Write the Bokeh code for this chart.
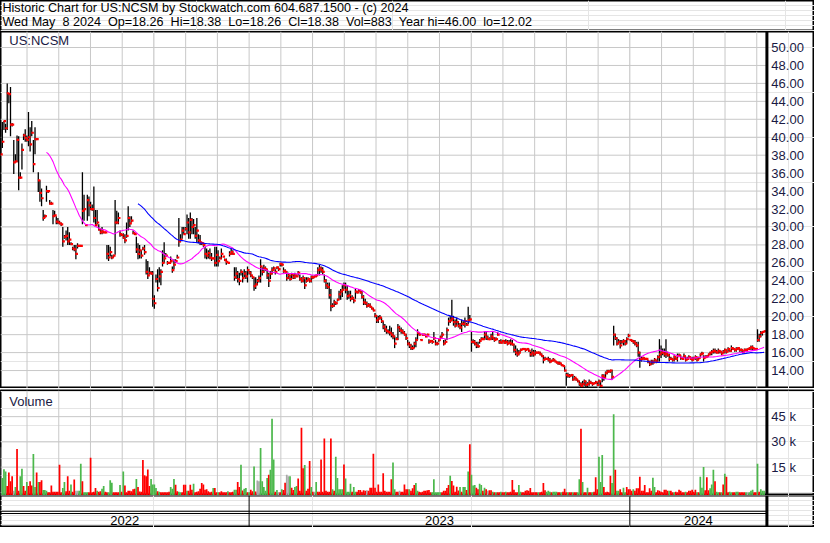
import numpy as np
import pandas as pd
from bokeh.plotting import figure
from bokeh.layouts import column
from bokeh.models import Range1d, Span
from bokeh.core.properties import value
from bokeh.embed import file_html
from bokeh.resources import INLINE

# ---------------- data (daily bars, US:NCSM, May 2022 - May 8 2024) ----------------
HIGH = [
40.9,41.7,41.8,41.5,46.0,44.9,45.6,41.6,39.7,38.1,
40.2,40.1,36.1,39.3,40.4,40.9,40.2,42.8,41.1,41.8,
39.7,41.1,39.9,36.1,35.2,34.3,31.9,31.4,34.6,34.1,
33.0,32.8,31.9,31.8,31.2,31.0,30.7,30.5,30.0,29.1,
29.6,30.0,29.4,28.3,27.8,28.0,28.0,28.2,27.9,27.9,
36.1,33.6,30.2,33.6,33.4,32.8,32.5,34.5,31.9,31.9,
30.3,29.8,30.0,29.5,29.4,28.0,28.0,27.8,26.9,26.9,
33.0,31.8,31.6,29.6,29.2,29.3,29.2,30.5,32.3,31.2,
31.2,29.6,29.4,28.9,28.2,28.0,27.4,27.8,28.0,26.4,
26.2,25.5,25.1,25.1,22.4,24.7,25.3,25.5,25.3,27.4,
28.3,27.1,26.2,26.0,26.7,25.6,26.4,26.4,26.9,31.0,
29.2,30.0,30.0,30.0,31.4,31.0,31.6,31.0,30.9,30.0,
31.0,29.2,29.1,28.3,28.2,27.8,27.6,27.4,27.6,27.1,
26.5,27.8,27.8,27.4,26.7,27.6,26.7,26.5,26.5,26.0,
27.3,27.6,27.4,25.5,25.5,25.1,24.9,25.3,25.1,25.3,
25.1,25.6,25.1,25.1,24.6,24.4,24.4,24.2,24.6,26.4,
25.5,25.8,25.6,25.3,24.9,25.1,25.5,25.6,25.3,25.6,
25.5,26.0,26.0,25.5,25.3,25.1,24.9,24.7,24.9,24.7,
24.9,24.7,25.1,24.7,24.4,24.6,24.4,24.4,24.4,24.3,
24.6,24.6,24.6,24.7,25.5,25.8,25.6,25.5,24.7,24.2,
23.8,23.8,23.1,21.5,21.9,21.7,22.0,22.9,23.1,23.5,
23.8,23.8,23.5,22.9,22.9,22.4,22.0,23.1,22.9,23.1,
22.9,22.9,22.4,22.0,21.7,21.5,21.5,21.1,21.0,20.4,
20.2,20.1,20.2,19.9,19.5,19.2,19.0,18.6,19.0,18.8,
18.3,17.9,17.7,19.2,19.0,18.8,18.6,18.4,18.1,17.4,
17.2,17.0,16.8,17.2,17.7,18.6,18.3,17.5,18.1,18.1,
17.9,18.1,17.5,17.4,17.4,18.3,17.4,17.2,17.5,17.9,
18.3,17.4,17.5,18.8,19.9,20.1,21.9,20.1,19.7,19.9,
19.5,19.3,19.7,19.5,19.9,19.3,21.1,20.2,18.3,17.5,
17.4,17.2,17.2,17.5,17.7,17.7,18.3,18.4,17.9,17.7,
18.1,18.3,17.7,17.7,18.3,17.4,17.5,17.4,17.4,17.5,
17.4,17.4,17.5,17.4,17.0,16.8,16.45,16.3,16.45,16.45,
16.45,16.45,16.45,16.45,16.1,16.45,16.3,16.3,16.1,16.1,
16.1,15.9,15.7,15.55,15.4,15.55,15.4,15.2,15.4,15.2,
15.0,15.0,15.0,14.8,14.65,14.5,13.75,13.75,13.6,13.6,
13.6,13.4,13.2,13.0,12.85,12.7,12.85,13.0,12.85,12.7,
13.0,12.85,12.7,12.7,12.85,12.7,13.0,12.85,13.6,13.6,
13.9,14.1,14.1,14.1,14.1,19.0,18.1,17.7,17.5,17.4,
17.4,17.5,17.4,17.7,18.1,17.5,17.5,17.4,17.4,17.2,
17.2,16.1,15.55,15.55,15.4,15.4,15.2,15.0,15.2,15.2,
15.4,15.2,15.7,17.5,16.8,16.45,16.45,17.5,16.1,15.9,
15.55,15.4,15.7,15.55,15.9,15.9,15.7,15.55,15.9,15.55,
15.55,15.7,15.55,15.55,15.55,15.7,15.55,15.55,15.9,16.1,
15.7,15.7,15.7,15.9,16.1,16.3,16.45,16.45,16.3,16.45,
16.3,16.1,16.3,16.45,16.3,16.6,16.3,16.8,16.6,16.45,
16.6,16.6,16.45,16.45,16.3,16.45,16.45,16.45,16.6,16.8,
16.8,16.45,16.45,18.6,18.1,18.4,18.4,18.38,
]
LOW = [
38.1,38.8,40.8,40.5,40.8,43.8,40.1,41.2,35.9,37.2,
37.2,34.1,35.4,36.4,39.7,39.5,39.5,39.0,38.4,40.1,
36.1,38.1,39.7,33.9,32.8,32.3,30.7,31.0,32.8,33.8,
32.5,32.5,30.3,31.2,30.3,30.3,30.3,30.1,27.8,28.7,
28.5,28.0,28.0,28.0,27.4,27.3,26.4,27.6,27.9,27.9,
30.3,30.7,30.1,30.7,31.2,31.9,31.8,30.5,30.0,30.3,
29.6,29.2,29.2,29.3,29.4,26.4,26.2,26.7,26.4,26.6,
26.9,30.3,30.3,28.9,29.0,28.7,28.2,28.8,29.6,30.0,
30.5,29.2,29.1,27.1,26.4,26.5,26.5,27.4,26.9,24.7,
24.2,24.7,24.7,21.1,20.9,23.8,22.8,23.8,23.5,25.6,
26.0,26.7,25.8,26.0,26.0,24.9,25.3,26.0,26.5,27.8,
28.3,28.7,29.2,29.6,29.2,28.7,28.7,29.2,29.2,28.7,
28.3,28.2,28.0,28.0,27.8,26.5,26.4,26.5,26.4,26.2,
26.5,25.6,25.6,25.6,26.4,26.4,26.7,26.2,25.8,26.0,
26.7,26.9,26.9,24.0,24.2,23.8,23.5,24.6,23.8,24.4,
24.2,23.8,24.7,24.4,24.2,22.9,23.1,23.5,23.8,23.8,
24.6,24.9,25.1,24.2,23.3,24.2,24.7,25.1,24.7,25.3,
25.1,25.6,25.6,24.9,24.9,24.0,24.2,24.0,24.2,24.2,
24.2,24.4,24.6,24.0,23.8,23.8,23.1,23.8,24.0,23.8,
23.8,24.2,24.4,24.4,24.7,24.6,24.9,24.7,23.8,23.1,
23.1,22.0,20.6,21.0,21.1,21.3,21.7,21.9,21.9,22.2,
23.1,22.6,21.9,22.0,21.7,21.9,21.5,22.0,22.6,22.8,
22.6,22.0,21.3,21.3,21.0,21.1,21.0,20.8,20.6,19.9,
19.3,19.3,19.7,19.3,18.6,18.3,18.1,18.1,17.9,17.7,
17.5,16.5,17.4,17.4,18.3,18.1,18.1,17.9,17.4,16.8,
16.5,16.3,16.3,16.5,16.6,17.4,17.9,17.4,17.9,17.9,
17.7,17.9,17.0,17.2,17.0,17.4,16.8,16.8,17.2,17.5,
17.7,16.8,17.0,17.4,19.0,19.3,19.5,19.0,18.8,19.0,
18.8,18.6,18.3,19.0,18.8,19.0,19.2,19.5,16.1,17.0,
16.8,16.5,16.5,17.0,17.4,17.4,17.5,17.4,17.4,17.4,
17.4,17.4,17.2,17.4,17.9,17.0,17.0,17.2,17.0,17.0,
16.8,17.0,16.8,16.8,16.0,15.7,15.55,15.7,16.1,16.3,
16.3,16.1,16.3,16.1,15.55,15.55,15.55,15.7,15.9,15.9,
15.7,15.55,14.8,15.2,15.2,15.0,14.8,15.0,15.0,15.0,
14.8,14.65,14.65,14.5,14.5,13.9,12.3,13.2,13.2,13.4,
12.85,13.0,12.85,12.7,12.3,12.02,12.1,12.3,12.1,12.1,
12.3,12.5,12.3,12.5,12.5,12.3,12.3,12.1,12.7,12.85,
13.2,13.6,13.75,13.75,13.0,16.8,17.4,16.8,17.0,16.45,
17.0,16.8,16.8,17.0,17.7,17.4,17.2,17.0,16.8,16.6,
15.55,14.3,15.0,15.2,15.2,15.2,14.8,14.5,14.65,14.65,
15.0,14.8,15.0,15.0,15.4,15.7,15.55,15.4,15.55,15.0,
15.2,15.0,15.0,15.2,15.0,15.55,15.2,15.2,15.4,15.0,
15.2,15.4,15.2,15.0,15.2,15.2,15.0,15.2,15.55,15.7,
15.0,15.4,15.4,15.55,15.7,15.7,15.9,15.9,15.9,15.9,
15.9,15.7,15.9,15.9,15.9,16.1,16.1,16.1,16.3,16.1,
16.1,16.3,16.1,16.1,15.9,16.1,16.1,16.3,16.3,16.3,
16.3,16.3,16.3,17.2,17.2,17.7,17.9,18.26,
]
CLOSE = [
38.1,39.5,41.8,41.0,44.9,44.8,41.4,41.4,37.2,37.3,
39.7,35.5,35.5,38.6,40.2,39.9,39.7,40.0,39.2,40.5,
37.0,39.8,39.8,35.2,33.8,33.2,31.0,31.2,34.0,34.0,
32.6,32.6,31.2,31.3,30.6,30.5,30.4,30.3,28.4,28.9,
29.0,28.4,28.6,28.1,27.6,27.5,27.0,27.9,27.9,27.9,
31.8,32.0,30.2,33.0,32.4,32.0,32.0,31.0,30.2,30.5,
29.7,29.4,29.5,29.4,29.4,27.0,26.6,27.2,26.6,26.8,
30.5,30.5,31.0,29.2,29.1,28.8,28.5,29.0,31.0,30.4,
30.7,29.3,29.2,27.5,27.0,27.4,26.8,27.6,27.2,25.0,
24.6,24.9,24.8,22.0,21.5,24.2,23.2,24.5,25.0,26.0,
26.5,26.8,26.0,26.0,26.2,25.2,25.8,26.2,26.6,28.4,
28.6,29.6,29.2,29.8,30.5,29.4,30.8,30.0,30.2,29.0,
29.6,28.5,28.3,28.2,28.0,27.0,26.8,27.1,26.6,26.5,
26.5,26.0,26.9,26.2,26.5,27.0,26.7,26.3,26.1,26.0,
27.0,27.2,27.0,24.4,24.8,24.2,24.0,25.0,24.3,24.8,
24.5,25.2,24.9,24.6,24.4,23.4,23.6,24.0,24.3,25.6,
25.0,25.4,25.3,24.6,24.0,24.8,25.2,25.4,25.0,25.5,
25.3,25.9,25.8,25.1,25.0,24.3,24.6,24.2,24.7,24.4,
24.6,24.5,24.9,24.2,24.0,24.3,23.5,24.0,24.2,24.0,
24.4,24.4,24.5,24.6,25.2,25.4,25.2,25.0,24.0,23.5,
23.3,22.4,21.2,21.2,21.6,21.5,21.9,22.5,22.8,23.0,
23.5,23.0,22.3,22.4,22.0,22.1,21.8,22.8,22.7,22.9,
22.7,22.2,21.6,21.5,21.2,21.3,21.1,20.9,20.7,20.1,
19.6,19.8,19.9,19.5,18.9,18.6,18.4,18.3,18.2,18.0,
17.8,17.0,17.5,18.8,18.5,18.4,18.2,18.0,17.6,17.0,
16.8,16.5,16.5,17.0,17.4,18.2,18.0,17.4,18.0,18.0,
17.8,18.0,17.2,17.3,17.2,17.6,17.0,17.0,17.4,17.7,
18.0,17.0,17.2,18.5,19.5,19.6,19.8,19.4,19.0,19.4,
19.0,18.8,19.2,19.2,19.5,19.1,19.6,19.7,17.2,17.2,
17.0,16.8,16.7,17.3,17.5,17.5,18.0,17.7,17.5,17.5,
17.8,17.6,17.4,17.5,18.0,17.2,17.1,17.3,17.1,17.2,
17.0,17.1,17.0,16.9,16.3,16.0,15.8,16.0,16.3,16.4,
16.4,16.3,16.4,16.2,15.8,16.0,15.8,16.0,16.0,16.0,
15.8,15.6,15.2,15.3,15.3,15.2,15.0,15.1,15.2,15.0,
14.9,14.8,14.8,14.6,14.5,14.0,13.5,13.4,13.4,13.5,
13.0,13.2,13.0,12.8,12.5,12.3,12.5,12.8,12.4,12.5,
12.7,12.6,12.5,12.6,12.7,12.4,12.8,12.3,13.4,13.2,
13.7,13.9,13.9,14.0,13.3,18.0,17.6,17.0,17.2,16.8,
17.2,17.3,17.0,17.5,17.9,17.4,17.3,17.2,17.0,16.8,
16.0,15.2,15.3,15.4,15.3,15.3,15.0,14.7,15.0,14.9,
15.2,15.0,15.5,15.8,16.0,16.0,15.8,15.9,15.7,15.3,
15.3,15.2,15.5,15.3,15.6,15.7,15.4,15.3,15.6,15.2,
15.3,15.5,15.3,15.2,15.4,15.5,15.2,15.4,15.8,15.9,
15.4,15.5,15.6,15.8,16.0,16.1,16.2,16.1,16.0,16.2,
16.1,15.9,16.1,16.3,16.1,16.4,16.2,16.5,16.4,16.3,
16.4,16.5,16.3,16.3,16.1,16.3,16.3,16.4,16.5,16.6,
16.5,16.4,16.4,17.4,17.8,18.2,18.3,18.38,
]
# daily volume in thousands of shares
VOLUME_K = [
26.8,8.6,13.7,12.4,3.7,11.8,6.6,9.5,0.9,3.2,
25.7,0.9,9.5,14.1,3.7,0.9,6.2,3.7,6.6,4.1,
22.8,3.2,11.8,6.1,6.2,7.2,1.4,1.4,0.9,0.1,
0.05,4.1,0.3,0.3,0.3,0.3,16.4,0.1,2.6,6.1,
0.7,9.5,0.9,4.7,0.3,7.6,0.9,0.9,0.9,17.0,
6.6,0.1,0.1,0.1,0.1,20.5,0.1,0.3,2.6,0.9,
0.3,0.7,2.2,3.7,0.3,0.1,0.05,7.2,5.7,0.1,
0.05,0.05,0.05,4.3,0.3,12.4,4.1,0.05,0.9,0.9,
0.7,1.8,2.2,8.0,3.2,0.5,0.3,19.3,10.1,9.5,
13.6,3.7,8.0,4.7,4.7,2.6,0.7,0.3,0.05,0.1,
0.05,0.1,0.05,0.3,3.2,2.2,8.0,4.5,0.7,0.3,
0.1,0.1,4.5,4.5,0.9,0.9,4.5,1.6,5.1,0.1,
0.3,0.7,2.2,5.5,4.7,1.6,1.8,0.7,0.05,0.3,
2.6,2.6,0.05,0.1,0.05,0.7,0.05,0.05,0.1,0.7,
0.05,0.02,0.3,1.6,1.6,6.2,3.2,16.4,1.1,2.2,
2.6,0.05,0.1,1.6,0.7,15.3,0.5,7.0,6.6,26.4,
6.6,3.2,0.9,8.6,10.5,13.4,43.7,19.5,0.3,1.4,
0.05,0.05,1.8,1.4,5.7,10.5,9.5,9.5,2.8,1.4,
3.2,3.7,8.2,0.9,38.4,14.3,16.2,0.9,2.2,18.6,
3.2,0.3,0.3,6.1,0.3,0.3,19.5,0.3,32.0,0.9,
0.3,0.3,32.0,1.8,0.9,21.1,8.6,1.8,1.8,1.8,
16.6,8.2,0.3,0.3,5.1,0.3,3.2,0.3,0.3,1.4,
1.4,0.3,1.3,0.9,1.3,0.9,2.8,2.8,23.0,2.8,
0.3,4.7,0.3,0.3,11.4,0.9,0.3,0.3,0.3,7.8,
17.8,1.8,0.3,0.3,0.9,0.3,0.3,4.7,1.8,1.8,
1.8,0.9,2.4,4.3,5.5,0.9,0.3,0.02,0.3,0.9,
0.9,1.3,1.4,0.02,0.1,7.8,0.1,0.05,0.05,0.05,
0.02,0.9,0.9,2.6,4.3,9.9,6.8,4.1,0.3,3.4,
1.1,3.2,0.3,3.2,3.2,1.4,12.4,28.6,10.5,4.1,
4.3,2.8,1.8,5.1,4.3,0.9,2.8,1.8,0.9,1.3,
1.3,0.3,0.1,0.1,0.1,0.1,0.3,0.05,0.05,0.3,
0.05,0.1,0.3,7.4,1.6,0.05,0.05,4.3,0.3,0.05,
0.05,0.9,1.3,0.9,2.6,0.05,0.05,0.02,0.02,0.05,
0.05,0.3,5.5,1.3,0.3,0.9,0.3,0.05,0.3,0.3,
0.3,0.05,0.05,0.05,0.3,2.2,0.05,0.02,0.02,0.05,
0.05,0.02,0.05,0.02,7.8,37.8,6.2,0.05,0.05,2.8,
0.05,0.05,0.05,0.3,8.9,1.8,21.1,6.2,22.2,3.2,
0.05,0.3,0.05,9.9,5.5,46.4,13.4,0.9,0.9,1.8,
0.05,2.8,0.05,3.2,1.8,1.8,0.9,1.8,0.9,2.4,
2.4,9.3,0.9,0.9,4.3,0.05,0.05,2.4,0.9,8.7,
3.2,0.05,1.3,0.9,0.3,0.05,1.6,1.6,0.9,0.9,
0.9,0.05,0.05,0.3,0.05,1.6,0.9,0.05,0.05,0.3,
0.05,0.9,0.9,1.6,0.3,1.6,0.05,0.05,9.3,2.8,
15.1,1.3,8.9,1.3,2.4,4.7,13.4,6.6,0.3,0.05,
0.05,0.05,4.7,11.1,9.3,0.05,0.3,0.05,0.05,0.05,
0.3,0.3,0.05,0.05,0.05,0.05,0.05,0.02,0.05,0.9,
1.6,0.05,0.05,17.0,0.3,1.8,0.9,0.883,
]
# volume bar colour per day: g = up, r = down, n = unchanged
VOL_DIR = (
    "ngggrrrrng" "rrggrrgrrr" "ggrgrrgggr" "rrrrrrrrgg" "rrrgrrnngg"
    "rgggrrrrrg" "rrggrrgggr" "rrrgrgrrrr" "rrrgrrrrrr" "rrggggrgrr"
    "rrrrgggrrg" "grrrgrrrgr" "rrrrrrrrrr" "grrgrrrrrg" "rrrggrrgrg"
    "grgrrgrnng" "ggggrgggrg" "nrgrrnngrr" "ggrrrrgrrr" "grngrrrrrr"
    "rrrgrggggg" "rggggrggrr" "rrrrnrrrrr" "rrrrrrrrrr" "ggrrnrrrrr"
    "grrrggrrrr" "rrrrgggggg" "rrrrrgrrrr" "rgrggrgrgg" "grrggrgrnr"
    "rgrgrrgrrg" "rrrrrrrggr" "rrrrrrrrrg" "rrrrgggrgg" "grrgrrrgrr"
    "grrggrgrrg" "rrgrrrgggr" "rrrrggrggr" "rggrrrrgrr" "rrrrrrrrrg"
    "grrrrrrrrg" "rrgrrrrrrg" "rrrrrrgrgg" "grrrgggrgg" "rgrgrrggrr"
    "ggrrrrgngg" "grrgrggg"
)
MA_FAST, MA_SLOW = 29, 85           # moving-average windows (bars)
PRICE_TICKS = list(range(14, 51, 2))
VOL_TICKS = [15000, 30000, 45000]
VOL_TICK_LABELS = ["15 k", "30 k", "45 k"]
YEARS = ["2022", "2023", "2024"]
YEAR_STARTS = [8, 20]                # months after May 2022 where 2023 / 2024 begin
HEADER_1 = "Historic Chart for US:NCSM by Stockwatch.com 604.687.1500 - (c) 2024"
HEADER_2 = ("Wed May\u00a0 8 2024\u00a0 Op=18.26\u00a0 Hi=18.38\u00a0 Lo=18.26\u00a0 "
            "Cl=18.38\u00a0 Vol=883\u00a0 Year hi=46.00\u00a0 lo=12.02")

# ---------------- geometry (x unit: months since 2022-05-01) ----------------
N = min(len(HIGH), len(LOW), len(CLOSE), len(VOLUME_K), len(VOL_DIR))
FIRST_BAR, LAST_BAR = 0.17, 24.23    # 2022-05-06 ... 2024-05-08
PLOT_END = 24.32
X_START, X_END = 0.164, 25.82
LABEL_X = 24.46
xs = np.linspace(FIRST_BAR, LAST_BAR, N)
step = xs[1] - xs[0]
H = np.array(HIGH[:N]); L = np.array(LOW[:N]); C = np.array(CLOSE[:N])
V = np.array(VOLUME_K[:N]) * 1000.0
close_s = pd.Series(C)
ma_fast = close_s.rolling(MA_FAST).mean().to_numpy()
ma_slow = close_s.rolling(MA_SLOW).mean().to_numpy()
COLS = {"g": "#4cb84c", "r": "#ff0000", "n": "#a8a8a8"}
vcols = [COLS[c] for c in VOL_DIR[:N]]

W = 814
FONT = value("Liberation Sans")
GRID = "#c8c8c8"
LBL = "#1a1a44"
MONTHS = list(range(1, 25))


def base_fig(height, x_range, y_range, **kw):
    p = figure(width=W, height=height, x_range=x_range, y_range=y_range,
               output_backend="svg", toolbar_location=None, title=None,
               x_axis_location=None, y_axis_location=None, min_border=0, **kw)
    p.outline_line_color = "black"
    p.outline_line_width = 2
    p.background_fill_color = "white"
    p.border_fill_color = "white"
    return p


xr = Range1d(X_START, X_END)

# header
hdr = base_fig(31, Range1d(0, 830), Range1d(31.5, 0))
hdr.text(x=[2, 2], y=[7.6, 21.4], text=[HEADER_1, HEADER_2], text_font=FONT,
         text_font_size="12.6px", text_color="black", text_baseline="middle")

# price panel
P_LO, P_HI = 12.0, 51.784
pp = base_fig(357, xr, Range1d(P_LO, P_HI))
pp.segment(x0=MONTHS, x1=MONTHS, y0=P_LO, y1=P_HI, line_color=GRID, line_width=1)
pp.segment(x0=X_START, x1=PLOT_END, y0=PRICE_TICKS, y1=PRICE_TICKS, line_color=GRID, line_width=1)
pp.segment(x0=xs, x1=xs, y0=L, y1=H, line_color="black", line_width=1.3)
pp.rect(x=xs + 0.5 * step, y=C, width=2.5, height=2.2, width_units="screen",
        height_units="screen", fill_color="#ff0000", line_color=None)
pp.line(xs, ma_fast, line_color="#ff00ff", line_width=1.1)
pp.line(xs, ma_slow, line_color="#0000ff", line_width=1.1)
pp.add_layout(Span(location=PLOT_END, dimension="height", line_color="black", line_width=3))
pp.text(x=LABEL_X, y=PRICE_TICKS, text=[f"{t:.2f}" for t in PRICE_TICKS], text_font=FONT,
        text_font_size="13px", text_color=LBL, text_baseline="middle", text_align="left")
pp.text(x=[0.44], y=[50.76], text=["US:NCSM"], text_font=FONT, text_font_size="13px",
        text_color=LBL, text_baseline="middle")

# volume panel
V_LO, V_HI = -1875.0, 60540.0
vp = base_fig(107, xr, Range1d(V_LO, V_HI), min_border_top=2)
vp.segment(x0=MONTHS, x1=MONTHS, y0=V_LO, y1=V_HI, line_color=GRID, line_width=1)
vp.segment(x0=X_START, x1=PLOT_END, y0=VOL_TICKS, y1=VOL_TICKS, line_color=GRID, line_width=1)
vp.vbar(x=xs, width=step * 1.05, bottom=V_LO, top=V, fill_color=vcols, line_color=None)
vp.add_layout(Span(location=PLOT_END, dimension="height", line_color="black", line_width=3))
vp.text(x=LABEL_X, y=VOL_TICKS, text=VOL_TICK_LABELS, text_font=FONT, text_font_size="13px",
        text_color=LBL, text_baseline="middle", text_align="left")
vp.text(x=[0.44], y=[53900], text=["Volume"], text_font=FONT, text_font_size="13px",
        text_color=LBL, text_baseline="middle")

# date strip
sp = base_fig(32, xr, Range1d(542.7, 509.75))
sp.segment(x0=X_START, x1=PLOT_END, y0=[526.0, 528.3], y1=[526.0, 528.3], line_color="black", line_width=1)
sp.segment(x0=YEAR_STARTS, x1=YEAR_STARTS, y0=509.75, y1=542.7, line_color="black", line_width=1)
sp.add_layout(Span(location=PLOT_END, dimension="height", line_color="black", line_width=3))
bounds = [X_START] + YEAR_STARTS + [PLOT_END]
centers = [(bounds[i] + bounds[i + 1]) / 2 for i in range(3)]
sp.text(x=centers, y=535.2, text=YEARS, text_font=FONT, text_font_size="13px",
        text_color="black", text_baseline="middle", text_align="center")

layout = column(hdr, pp, vp, sp, spacing=0)
open("out.html", "w").write(file_html(layout, INLINE))
